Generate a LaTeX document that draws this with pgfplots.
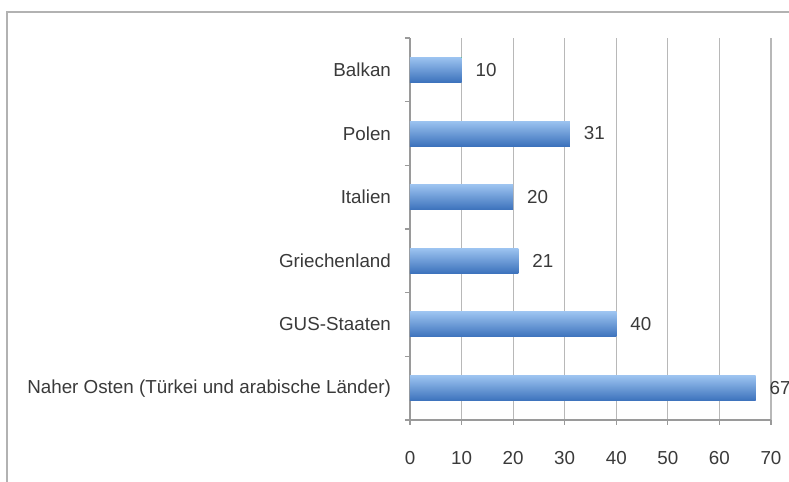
\documentclass[border=0pt]{standalone}
\usepackage{pgfplots}
\pgfplotsset{compat=1.18}
\usepackage{fontspec}
\setmainfont{Liberation Sans}
\definecolor{txt}{HTML}{3A3A3A}
\definecolor{gridc}{HTML}{B8B8B8}
\definecolor{axc}{HTML}{9A9A9A}
\definecolor{bartop}{HTML}{9CC3F0}
\definecolor{barmid}{HTML}{6399DA}
\definecolor{barbot}{HTML}{3C72BC}
\begin{document}
\begin{tikzpicture}
\useasboundingbox (0,0) rectangle (394.5pt,241pt);
\draw[gray!60, line width=1.2pt] (3.6pt,-5pt) -- (3.6pt,235pt) -- (400pt,235pt);
\begin{axis}[
  at={(205pt,31pt)}, anchor=south west,
  scale only axis, width=180.5pt, height=191pt,
  xbar, bar width=12.5pt, bar shift=0pt,
  xmin=0, xmax=70, ymin=-0.5, ymax=5.5,
  xtick={0,10,...,70},
  ytick={-0.5,0.5,...,5.5},
  yticklabels={},
  extra y ticks={0,1,2,3,4,5},
  extra y tick labels={Naher Osten (Türkei und arabische Länder),GUS-Staaten,Griechenland,Italien,Polen,Balkan},
  extra y tick style={major tick length=0pt, yticklabel style={xshift=-6pt}},
  axis x line*=bottom, axis y line*=left,
  axis line style={axc, line width=0.6pt},
  xmajorgrids, major grid style={gridc, line width=0.6pt},
  tick align=outside,
  major tick style={axc, line width=0.6pt},
  major tick length=2.5pt,
  tick label style={font=\fontsize{9.4}{11}\selectfont, text=txt},
  /pgf/number format/assume math mode=true,
  xticklabel style={yshift=-9.5pt},
  nodes near coords,
  nodes near coords style={font=\fontsize{9.4}{11}\selectfont, text=txt, anchor=west, xshift=3.5pt},
  every axis plot/.append style={draw=none, top color=bartop, middle color=barmid, bottom color=barbot},
  clip=false,
]
\addplot coordinates {(67,0)};
\addplot coordinates {(40,1)};
\addplot coordinates {(21,2)};
\addplot coordinates {(20,3)};
\addplot coordinates {(31,4)};
\addplot coordinates {(10,5)};
\end{axis}
\end{tikzpicture}
\end{document}
